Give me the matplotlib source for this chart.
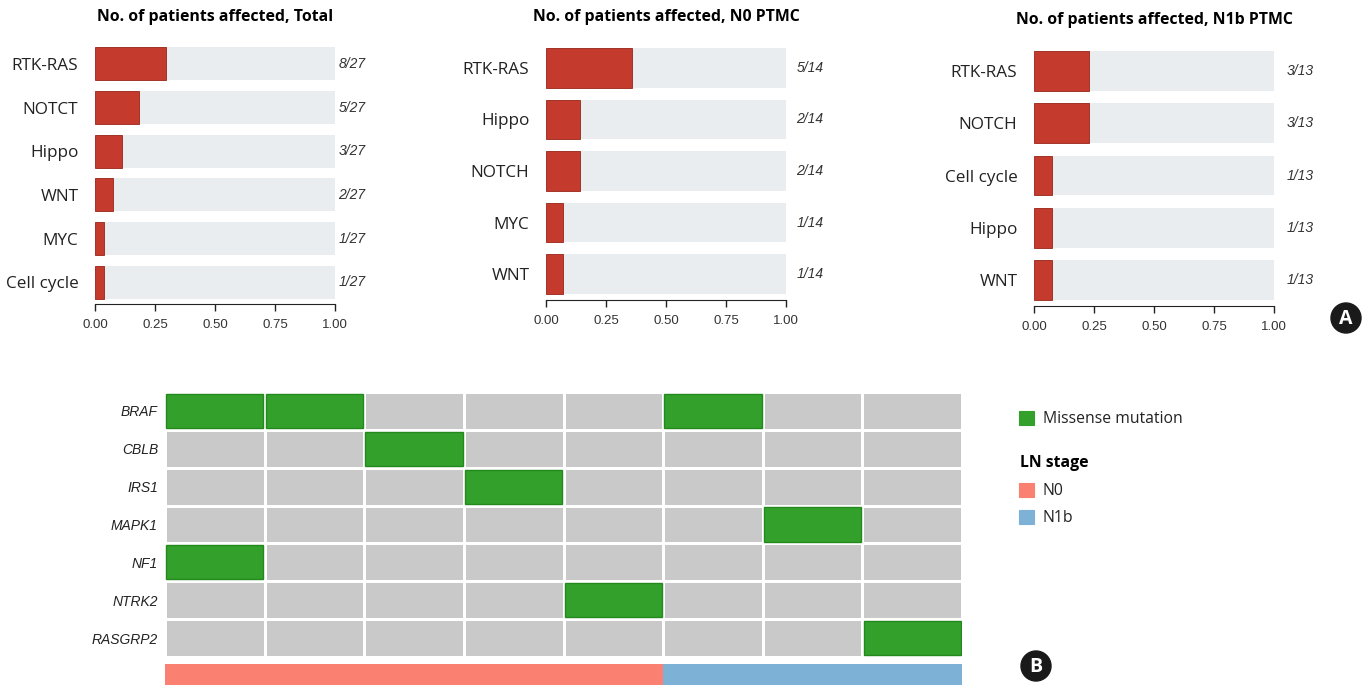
import matplotlib as mpl

mpl.use("agg")
import numpy as np
from matplotlib import pyplot as plt
from matplotlib.colors import ListedColormap
from matplotlib.patches import Circle, Rectangle
from matplotlib.transforms import blended_transform_factory

W, H = 1369, 685

# pathway frequency panels
total_paths = ["RTK-RAS", "NOTCT", "Hippo", "WNT", "MYC", "Cell cycle"]
total_counts = [8, 5, 3, 2, 1, 1]
total_n = 27

n0_paths = ["RTK-RAS", "Hippo", "NOTCH", "MYC", "WNT"]
n0_counts = [5, 2, 2, 1, 1]
n0_n = 14

n1b_paths = ["RTK-RAS", "NOTCH", "Cell cycle", "Hippo", "WNT"]
n1b_counts = [3, 3, 1, 1, 1]
n1b_n = 13

x_ticks = [0.0, 0.25, 0.5, 0.75, 1.0]

# oncoprint
genes = ["BRAF", "CBLB", "IRS1", "MAPK1", "NF1", "NTRK2", "RASGRP2"]
missense = [
    [1, 1, 0, 0, 0, 1, 0, 0],
    [0, 0, 1, 0, 0, 0, 0, 0],
    [0, 0, 0, 1, 0, 0, 0, 0],
    [0, 0, 0, 0, 0, 0, 1, 0],
    [1, 0, 0, 0, 0, 0, 0, 0],
    [0, 0, 0, 0, 1, 0, 0, 0],
    [0, 0, 0, 0, 0, 0, 0, 1],
]
ln_stage = ["N0", "N0", "N0", "N0", "N0", "N1b", "N1b", "N1b"]

BAR_RED = "#c43a2c"
BAR_BG = "#eaedef"
GREEN = "#33a02c"
GREY = "#c9c9c9"
STAGE_COLORS = {"N0": "#fa8072", "N1b": "#7eb1d6"}

plt.rcParams["font.family"] = ["Open Sans", "DejaVu Sans"]

fig = plt.figure(figsize=(W / 100, H / 100), dpi=100, facecolor="w")


def axes_px(x0, y0, x1, y1):
    return fig.add_axes([x0 / W, 1 - y1 / H, (x1 - x0) / W, (y1 - y0) / H])


def pathway_panel(box, title, paths, counts, n, label_x, bar_h):
    ax = axes_px(*box)
    y = np.arange(len(paths))
    frac = np.array(counts) / n
    ax.barh(y, np.ones(len(paths)), height=bar_h, color=BAR_BG, zorder=1)
    ax.barh(y, frac, height=bar_h, color=BAR_RED, edgecolor="#9a2519",
            linewidth=0.6, zorder=2)
    ax.set_xlim(0, 1)
    ax.set_ylim(len(paths) - 0.5, -0.5)
    ax.set_yticks(y)
    ax.set_yticklabels(paths, fontsize=12.3, color="#222222")
    ax.tick_params(axis="y", length=0, pad=12)
    ax.set_xticks(x_ticks)
    ax.set_xticklabels([f"{t:.2f}" for t in x_ticks], family="Liberation Sans",
                       fontsize=9.5, color="#333333")
    ax.tick_params(axis="x", length=5, width=1, color="#222222", pad=6)
    for s in ["top", "right", "left"]:
        ax.spines[s].set_visible(False)
    ax.spines["bottom"].set_color("#222222")
    ax.spines["bottom"].set_bounds(0, 1)
    ax.set_facecolor("none")
    ax.set_title(title, fontsize=11.4, fontweight="bold", pad=15)
    tr = blended_transform_factory(ax.transAxes, ax.transData)
    for yi, c in zip(y, counts):
        ax.text(label_x, yi, f"{c}/{n}", transform=tr, ha="center", va="center",
                family="Liberation Sans", style="italic", fontsize=10,
                color="#333333")
    return ax


pathway_panel((95, 42, 335, 304), "No. of patients affected, Total",
              total_paths, total_counts, total_n, 1.07, 0.76)
pathway_panel((546, 42, 786, 300), "No. of patients affected, N0 PTMC",
              n0_paths, n0_counts, n0_n, 1.10, 0.77)
pathway_panel((1034, 45, 1274, 306), "No. of patients affected, N1b PTMC",
              n1b_paths, n1b_counts, n1b_n, 1.11, 0.76)

# oncoprint grid
ax = axes_px(165, 392, 962, 657)
grid = np.array(missense)
ax.pcolormesh(grid, cmap=ListedColormap([GREY, GREEN]), vmin=0, vmax=1,
              edgecolors="white", linewidth=2)
rows, cols = np.nonzero(grid)
for r, c in zip(rows, cols):
    ax.add_patch(Rectangle((c + 0.012, r + 0.05), 0.976, 0.9, fill=False,
                           edgecolor="#23891c", linewidth=1))
ax.set_xlim(0, grid.shape[1])
ax.set_ylim(grid.shape[0], 0)
ax.set_yticks(np.arange(len(genes)) + 0.5)
ax.set_yticklabels(genes, family="Liberation Sans", style="italic",
                   fontsize=10, color="#222222")
ax.tick_params(axis="y", length=0, pad=5)
ax.set_xticks([])
for s in ax.spines.values():
    s.set_visible(False)

# LN stage annotation bar
ax = axes_px(165, 664, 962, 687)
stage_cols = [STAGE_COLORS[s] for s in ln_stage]
ax.bar(np.arange(len(ln_stage)), np.ones(len(ln_stage)), width=1.0,
       align="edge", color=stage_cols, linewidth=0)
ax.set_xlim(0, len(ln_stage))
ax.set_ylim(0, 1)
ax.axis("off")

# legend and panel letters
ov = fig.add_axes([0, 0, 1, 1])
ov.set_xlim(0, W)
ov.set_ylim(H, 0)
ov.axis("off")
legend_items = [
    (411, GREEN, "Missense mutation"),
    (483, STAGE_COLORS["N0"], "N0"),
    (510, STAGE_COLORS["N1b"], "N1b"),
]
for ty, col, lab in legend_items:
    ov.add_patch(Rectangle((1019, ty), 15, 14, facecolor=col,
                           edgecolor=col, linewidth=0.8))
    ov.text(1043, ty + 8, lab, fontsize=11.3, va="center", color="#222222")
ov.text(1020, 463, "LN stage", fontsize=11.3, fontweight="bold", va="center")

for cx, cy, letter in [(1346, 318, "A"), (1036, 666, "B")]:
    ov.add_patch(Circle((cx, cy), 15, color="#1a1a1a"))
    ov.text(cx, cy + 1, letter, color="white", fontsize=14, fontweight="bold",
            ha="center", va="center")

fig.savefig("out.png", dpi=100)
